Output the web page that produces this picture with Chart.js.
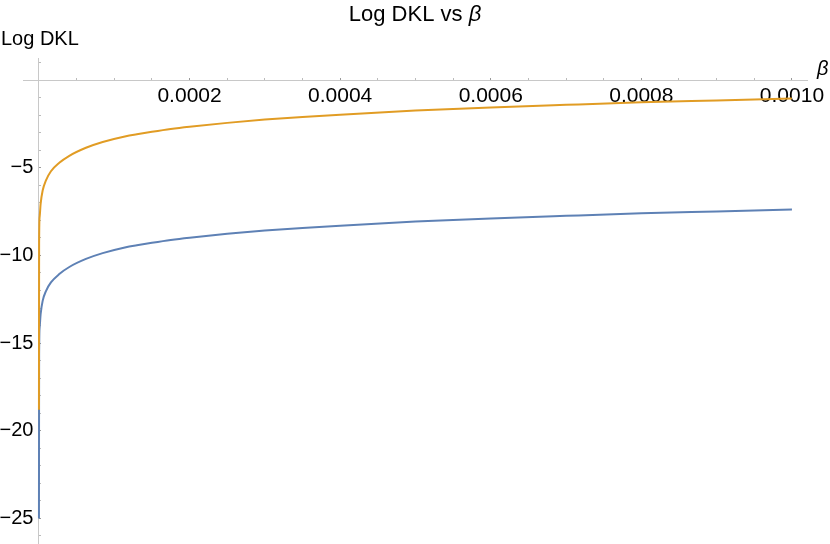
<!DOCTYPE html>
<html>
<head>
<meta charset="utf-8">
<script src="https://cdn.jsdelivr.net/npm/chart.js@4/dist/chart.umd.min.js"></script>
<style>
  body { margin: 0; background: #fff; }
  #wrap { position: relative; width: 830px; height: 544px; }
</style>
</head>
<body>
<div id="wrap"><canvas id="dklChart"></canvas></div>
<script>
// valores (beta, log DKL)
const betaValues = [0, 0.0000002, 0.0000009, 0.0000022, 0.0000049, 0.0000093, 0.0000159, 0.000027, 0.0000403,
  0.0000624, 0.0000846, 0.0001155, 0.00013, 0.00015, 0.000175, 0.0002, 0.00025, 0.0003, 0.00035, 0.0004,
  0.0005, 0.0006, 0.0007, 0.0008, 0.0009, 0.001];
const orangeValues = [-18.8, -9.3, -7.8, -7.06, -6.3, -5.72, -5.2, -4.72, -4.32,
  -3.86, -3.53, -3.2, -3.09, -2.95, -2.79, -2.66, -2.44, -2.25, -2.1, -1.97,
  -1.74, -1.56, -1.41, -1.27, -1.16, -1.05];
const blueValues = [-25.0, -15.7, -14.1, -13.35, -12.59, -12.03, -11.54, -11.06, -10.66,
  -10.2, -9.87, -9.53, -9.42, -9.28, -9.12, -8.99, -8.77, -8.58, -8.43, -8.3,
  -8.07, -7.89, -7.74, -7.6, -7.49, -7.38];

const xMajorTicks = [0.0002, 0.0004, 0.0006, 0.0008, 0.001];
const yMajorTicks = [-25, -20, -15, -10, -5];

const toPoints = vals => betaValues.map((b, i) => ({ x: b, y: vals[i] }));
const isMajor = (v, list, eps) => list.some(m => Math.abs(m - v) < eps);

const fontFamily = 'Liberation Sans, Arial, sans-serif';

// título e rótulos dos eixos
const labelsPlugin = {
  id: 'labels',
  afterDraw(chart) {
    const ctx = chart.ctx;
    ctx.save();
    ctx.fillStyle = '#000';
    ctx.textBaseline = 'alphabetic';
    const t1 = 'Log DKL vs ';
    ctx.font = '22px ' + fontFamily;
    const w1 = ctx.measureText(t1).width;
    ctx.font = 'italic 22px ' + fontFamily;
    const w2 = ctx.measureText('β').width;
    const start = 415 - (w1 + w2) / 2;
    ctx.font = '22px ' + fontFamily;
    ctx.fillText(t1, start, 21);
    ctx.font = 'italic 22px ' + fontFamily;
    ctx.fillText('β', start + w1, 21);

    ctx.font = '20px ' + fontFamily;
    ctx.fillText('Log DKL', 1, 45);
    ctx.font = 'italic 20px ' + fontFamily;
    ctx.fillText('β', 817, 75);
    ctx.restore();
  }
};

new Chart(document.getElementById('dklChart'), {
  type: 'line',
  data: {
    datasets: [{
      label: 'orange',
      data: toPoints(orangeValues),
      borderColor: '#E19C24',
      borderWidth: 2,
      pointRadius: 0,
      cubicInterpolationMode: 'monotone',
      fill: false
    }, {
      label: 'blue',
      data: toPoints(blueValues),
      borderColor: '#5E81B5',
      borderWidth: 2,
      pointRadius: 0,
      cubicInterpolationMode: 'monotone',
      fill: false
    }]
  },
  options: {
    responsive: true,
    maintainAspectRatio: false,
    animation: false,
    layout: { padding: { left: 23, right: 23, top: 58, bottom: 1 } },
    plugins: { legend: { display: false }, tooltip: { enabled: false } },
    scales: {
      x: {
        type: 'linear',
        position: { y: 0 },
        min: -0.0000212,
        max: 0.00102,
        afterBuildTicks(scale) {
          const t = [];
          for (let i = 1; i <= 20; i++) t.push({ value: i * 0.00005 });
          scale.ticks = t;
        },
        afterFit(scale) { scale.paddingLeft = 0; scale.paddingRight = 0; },
        border: { display: true, color: '#c8c8c8', width: 1 },
        grid: {
          drawOnChartArea: false,
          drawTicks: true,
          tickLength: -3,
          tickColor: ctx => isMajor(ctx.tick.value, xMajorTicks, 1e-9) ? '#999' : '#bbb',
          tickWidth: 1
        },
        ticks: {
          autoSkip: false,
          maxRotation: 0,
          padding: 7,
          color: '#000',
          font: { family: fontFamily, size: 21 },
          callback: v => isMajor(v, xMajorTicks, 1e-9) ? v.toFixed(4) : ''
        }
      },
      y: {
        type: 'linear',
        position: { x: 0 },
        min: -26.4,
        max: 1.26,
        afterBuildTicks(scale) {
          const t = [];
          for (let v = -26; v <= 1; v++) if (v !== 0) t.push({ value: v });
          scale.ticks = t;
        },
        afterFit(scale) { scale.paddingTop = 0; scale.paddingBottom = 0; },
        border: { display: true, color: '#c8c8c8', width: 1 },
        grid: {
          drawOnChartArea: false,
          drawTicks: true,
          tickLength: -3,
          tickColor: ctx => isMajor(ctx.tick.value, yMajorTicks, 1e-6) ? '#999' : '#bbb',
          tickWidth: 1
        },
        ticks: {
          autoSkip: false,
          color: '#000',
          font: { family: fontFamily, size: 20 },
          // espaço no fim afasta o rótulo do eixo
          callback: v => isMajor(v, yMajorTicks, 1e-6) ? '\u2212' + Math.abs(v) + ' ' : ''
        }
      }
    }
  },
  plugins: [labelsPlugin]
});
</script>
</body>
</html>
